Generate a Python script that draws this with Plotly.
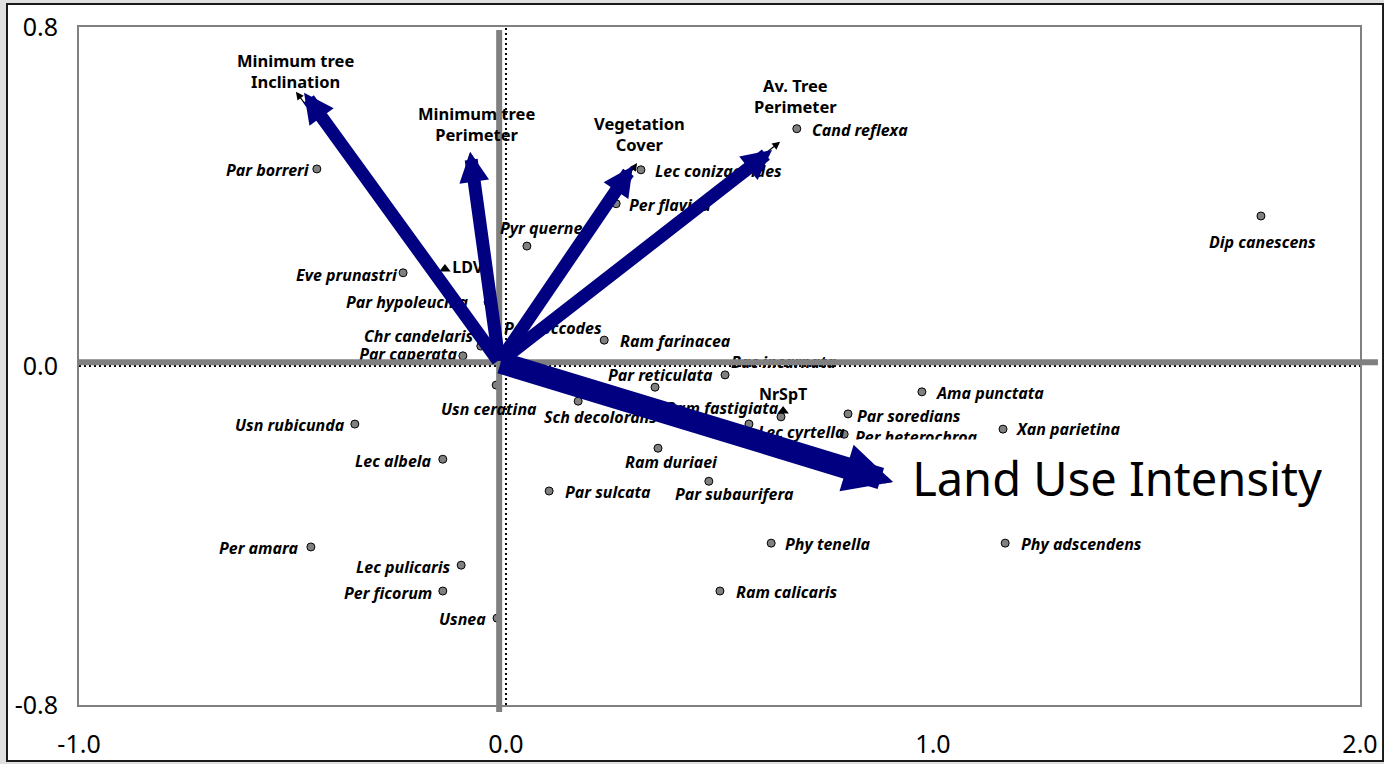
import plotly.graph_objects as go

# ---------------- data ----------------
species = ["Par borreri", "Pyr quernea", "Eve prunastri", "Par hypoleucina", "Chr candelaris",
           "Par caperata", "Per coccodes", "Usn ceratina", "Usn rubicunda", "Sch decolorans",
           "Ram farinacea", "Par reticulata", "Bac incarnata", "Ram duriaei", "Par sulcata",
           "Par subaurifera", "Ram fastigiata", "Lec cyrtella", "Par soredians", "Per heterochroa",
           "Ama punctata", "Xan parietina", "Phy tenella", "Phy adscendens", "Dip canescens",
           "Cand reflexa", "Lec conizaeoides", "Per flavida", "Lec albela", "Per amara",
           "Lec pulicaris", "Per ficorum", "Usnea", "Ram calicaris"]
sp_x = [-0.443, 0.049, -0.241, -0.042, -0.059,
        -0.101, -0.021, -0.023, -0.354, 0.169,
        0.230, 0.349, 0.513, 0.356, 0.101,
        0.475, 0.644, 0.569, 0.801, 0.792,
        0.974, 1.164, 0.621, 1.169, 1.768,
        0.681, 0.316, 0.258, -0.148, -0.457,
        -0.105, -0.148, -0.021, 0.501]
sp_y = [0.465, 0.283, 0.220, 0.151, 0.047,
        0.024, 0.090, -0.045, -0.137, -0.083,
        0.061, -0.050, -0.021, -0.194, -0.295,
        -0.272, -0.120, -0.137, -0.113, -0.161,
        -0.061, -0.149, -0.418, -0.418, 0.354,
        0.560, 0.463, 0.383, -0.220, -0.427,
        -0.470, -0.531, -0.595, -0.531]

supp_names = ["LDV", "NrSpT"]
supp_x = [-0.143, 0.649]
supp_y = [0.229, -0.106]

vec_names = ["Minimum tree<br>Inclination", "Minimum tree<br>Perimeter", "Vegetation<br>Cover",
             "Av. Tree<br>Perimeter", "Land Use Intensity"]
vec_x = [-0.492, -0.084, 0.307, 0.642, 0.906]      # thin black vector tips
vec_y = [0.647, 0.505, 0.479, 0.529, -0.274]
arrow_x = [-0.473, -0.084, 0.297, 0.623, 0.906]    # thick navy arrow tips
arrow_y = [0.645, 0.505, 0.472, 0.510, -0.274]

x_ticks = [-1.0, 0.0, 1.0, 2.0]
y_ticks = [-0.8, 0.0, 0.8]

# ---------------- styles ----------------
# label placement per species: (xanchor, x offset px, y offset px downward)
# None -> label drawn by the marker trace itself (lies under the grey axis lines)
sp_lab = [("right", -5, 1), ("center", 19, -18), ("right", -3, 2), ("right", -17, 0), ("right", -6, -10),
          None, ("left", 5, 0), ("center", -7, 24), ("right", -8, 1), ("center", 22, 16),
          ("left", 14, 1), ("center", 5, -12), None, ("center", 13, 14), ("left", 14, 1),
          ("center", 26, 13), ("right", 0, -9), ("left", 7, 8), ("left", 7, 2), ("left", 9, 3),
          ("left", 12, 1), ("left", 11, 0), ("left", 12, 1), ("left", 14, 1), ("center", 2, 26),
          ("left", 13, 1), ("left", 12, 1), ("left", 11, 1), ("right", -9, 2), ("right", -11, 1),
          ("right", -8, 2), ("right", -9, 2), ("right", -9, 1), ("left", 14, 1)]
trace_text_pos = {5: "middle left", 12: "middle right"}
trace_text_suffix = {5: "", 12: "<br> "}
supp_textpos = ["middle right", "top center"]
NAVY = "#000080"
FONT = "Noto Sans"
LABEL_FONT = dict(family=FONT, size=16, color="#000000", style="italic", weight="bold")
CROSS_X, CROSS_Y = -0.016, 0.009   # where the thick grey axis lines cross

fig = go.Figure()

trace_text = [species[i] + trace_text_suffix[i] if i in trace_text_pos else "" for i in range(len(species))]
trace_pos = [trace_text_pos.get(i, "middle right") for i in range(len(species))]
fig.add_trace(go.Scatter(
    x=sp_x, y=sp_y, mode="markers+text", text=trace_text, textposition=trace_pos,
    marker=dict(size=8, color="#808080", line=dict(color="#000000", width=1)),
    textfont=LABEL_FONT, cliponaxis=False, hoverinfo="skip", showlegend=False))

fig.add_trace(go.Scatter(
    x=supp_x, y=supp_y, mode="markers+text", text=supp_names, textposition=supp_textpos,
    marker=dict(size=10, color="#000000", symbol="triangle-up"),
    textfont=dict(family=FONT, size=16, color="#000000", weight="bold"),
    cliponaxis=False, hoverinfo="skip", showlegend=False))

# frame of the whole picture (paper fractions of the plot area)
fig.add_shape(type="rect", xref="paper", yref="paper", x0=-0.0562, x1=1.0180, y0=-0.0826, y1=1.0339,
              fillcolor="#ffffff", line=dict(color="#1a1a1a", width=2), layer="below")

# dotted zero lines
fig.add_shape(type="line", xref="x", yref="paper", x0=0, x1=0, y0=0, y1=1,
              line=dict(color="#000000", width=2, dash="2px,3px"), layer="above")
fig.add_shape(type="line", xref="paper", yref="y", x0=0, x1=1, y0=0, y1=0,
              line=dict(color="#000000", width=2, dash="2px,3px"), layer="above")
# thick grey axis lines
fig.add_shape(type="line", xref="paper", yref="y", x0=-0.001, x1=1.014, y0=CROSS_Y, y1=CROSS_Y,
              line=dict(color="#808080", width=6), layer="above")
fig.add_shape(type="line", xref="x", yref="paper", x0=CROSS_X, x1=CROSS_X, y0=-0.0103, y1=0.9956,
              line=dict(color="#808080", width=6), layer="above")

annotations = []
# species labels
for i, name in enumerate(species):
    if sp_lab[i] is None:
        continue
    xa, dx, dy = sp_lab[i]
    annotations.append(dict(x=sp_x[i], y=sp_y[i], xref="x", yref="y", text=name, showarrow=False,
                            xanchor=xa, yanchor="middle", xshift=dx, yshift=-dy, font=LABEL_FONT))
# Land Use Intensity label box (under arrows)
annotations.append(dict(x=0.785, y=arrow_y[4], xref="x", yref="y", xanchor="left", yanchor="middle",
                        yshift=4, text=vec_names[4], showarrow=False, align="right", width=476, height=68,
                        bgcolor="#ffffff", borderpad=4,
                        font=dict(family=FONT, size=47, color="#000000")))
# thin black vectors
for vx, vy in zip(vec_x, vec_y):
    annotations.append(dict(x=vx, y=vy, ax=CROSS_X, ay=CROSS_Y, xref="x", yref="y", axref="x", ayref="y",
                            text="", showarrow=True, arrowhead=2, arrowsize=1.3, arrowwidth=1.2,
                            arrowcolor="#000000"))
# thick navy arrows
for i, (vx, vy) in enumerate(zip(arrow_x, arrow_y)):
    big = i == 4
    annotations.append(dict(x=vx, y=vy, ax=CROSS_X, ay=CROSS_Y, xref="x", yref="y", axref="x", ayref="y",
                            text="", showarrow=True, arrowhead=2,
                            arrowsize=0.44 if big else 0.46, arrowwidth=22 if big else 13,
                            arrowcolor=NAVY))
# vector labels
lab_shift = [(0, -3), (6, 4), (2, 5), (15, 22)]
for i in range(4):
    annotations.append(dict(x=vec_x[i], y=vec_y[i], xref="x", yref="y", xanchor="center",
                            yanchor="bottom", xshift=lab_shift[i][0], yshift=lab_shift[i][1],
                            text=vec_names[i], showarrow=False,
                            font=dict(family=FONT, size=16.5, color="#000000", weight="bold")))

fig.update_layout(
    width=1384, height=764, autosize=False,
    margin=dict(l=79, r=24, t=27, b=59, pad=0, autoexpand=False),
    paper_bgcolor="#e0e0e0", plot_bgcolor="#ffffff",
    annotations=annotations, showlegend=False,
    xaxis=dict(range=[-1, 2], tickvals=x_ticks, ticktext=[f"{v:.1f}" for v in x_ticks],
               showgrid=False, zeroline=False, showline=True, mirror=True, automargin=False,
               linecolor="#808080", linewidth=2, ticks="", ticklabelstandoff=16,
               tickfont=dict(family=FONT, size=25, color="#000000")),
    yaxis=dict(range=[-0.8, 0.8], tickvals=y_ticks, ticktext=[f"{v:.1f}" for v in y_ticks],
               showgrid=False, zeroline=False, showline=True, mirror=True, automargin=False,
               linecolor="#808080", linewidth=2, ticks="", ticklabelstandoff=14,
               tickfont=dict(family=FONT, size=25, color="#000000")),
)

fig.write_html("out.html")
